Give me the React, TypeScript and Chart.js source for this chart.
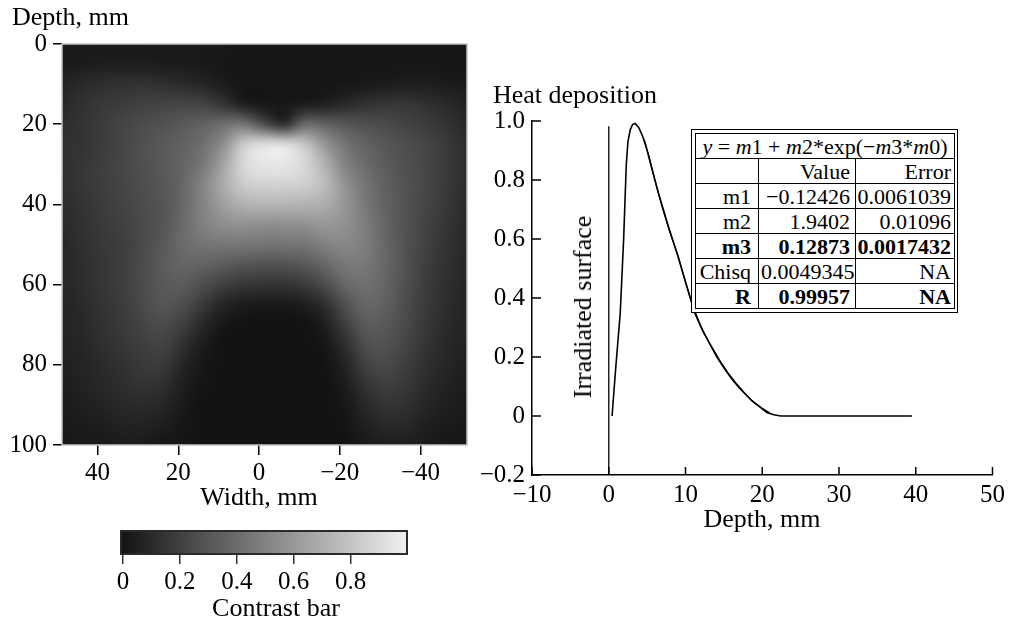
import React, { useEffect, useRef } from 'react';
import { Chart, registerables } from 'chart.js';
Chart.register(...registerables);

const FONT = "'Liberation Serif', 'Times New Roman', serif";

// ---------- Left panel: contrast map (width x depth) ----------
const heatWidths = [48.75, 43.75, 38.75, 33.75, 28.75, 23.75, 18.75, 13.75, 8.75, 3.75, -1.25, -6.25, -11.25, -16.25, -21.25, -26.25, -31.25, -36.25, -41.25, -46.25, -51.25];
const heatDepths = [0, 5, 10, 15, 20, 25, 30, 35, 40, 45, 50, 55, 60, 65, 70, 75, 80, 85, 90, 95, 100];

const row00 = [0.03, 0.03, 0.03, 0.03, 0.03, 0.03, 0.03, 0.03, 0.03, 0.02, 0.02, 0.02, 0.02, 0.02, 0.02, 0.02, 0.02, 0.02, 0.02, 0.02, 0.02];
const row05 = [0.03, 0.04, 0.05, 0.05, 0.05, 0.04, 0.04, 0.03, 0.02, 0.02, 0.02, 0.02, 0.02, 0.02, 0.02, 0.02, 0.02, 0.02, 0.02, 0.02, 0.02];
const row10 = [0.07, 0.11, 0.13, 0.14, 0.14, 0.13, 0.11, 0.08, 0.04, 0.02, 0.02, 0.02, 0.02, 0.02, 0.02, 0.03, 0.04, 0.05, 0.05, 0.04, 0.03];
const row15 = [0.1, 0.14, 0.17, 0.19, 0.21, 0.22, 0.23, 0.22, 0.15, 0.04, 0.02, 0.02, 0.03, 0.05, 0.1, 0.14, 0.16, 0.16, 0.14, 0.11, 0.07];
const row20 = [0.12, 0.15, 0.19, 0.23, 0.26, 0.29, 0.32, 0.36, 0.42, 0.45, 0.25, 0.1, 0.4, 0.36, 0.31, 0.28, 0.25, 0.22, 0.19, 0.15, 0.1];
const row25 = [0.14, 0.15, 0.19, 0.23, 0.28, 0.32, 0.36, 0.42, 0.56, 0.85, 0.94, 0.94, 0.82, 0.6, 0.44, 0.36, 0.31, 0.27, 0.23, 0.18, 0.12];
const row30 = [0.14, 0.16, 0.2, 0.24, 0.28, 0.32, 0.37, 0.46, 0.66, 0.9, 0.96, 0.96, 0.9, 0.72, 0.5, 0.4, 0.33, 0.28, 0.24, 0.18, 0.12];
const row35 = [0.13, 0.16, 0.2, 0.23, 0.27, 0.31, 0.38, 0.52, 0.7, 0.84, 0.87, 0.87, 0.85, 0.77, 0.58, 0.44, 0.35, 0.29, 0.24, 0.18, 0.12];
const row40 = [0.12, 0.15, 0.19, 0.22, 0.26, 0.3, 0.38, 0.52, 0.64, 0.72, 0.73, 0.73, 0.72, 0.7, 0.6, 0.46, 0.36, 0.29, 0.23, 0.17, 0.11];
const row45 = [0.11, 0.14, 0.18, 0.21, 0.25, 0.3, 0.4, 0.5, 0.56, 0.57, 0.56, 0.56, 0.57, 0.6, 0.57, 0.48, 0.37, 0.29, 0.22, 0.16, 0.1];
const row50 = [0.1, 0.13, 0.17, 0.2, 0.25, 0.32, 0.4, 0.44, 0.45, 0.45, 0.44, 0.44, 0.45, 0.5, 0.53, 0.48, 0.38, 0.29, 0.21, 0.15, 0.1];
const row55 = [0.1, 0.12, 0.16, 0.2, 0.26, 0.33, 0.38, 0.36, 0.33, 0.3, 0.29, 0.29, 0.31, 0.38, 0.46, 0.46, 0.38, 0.29, 0.2, 0.14, 0.09];
const row60 = [0.09, 0.12, 0.16, 0.2, 0.26, 0.32, 0.33, 0.27, 0.2, 0.16, 0.15, 0.15, 0.18, 0.26, 0.38, 0.43, 0.37, 0.28, 0.19, 0.13, 0.09];
const row65 = [0.08, 0.11, 0.15, 0.19, 0.25, 0.3, 0.27, 0.17, 0.08, 0.04, 0.03, 0.03, 0.05, 0.12, 0.28, 0.38, 0.35, 0.26, 0.18, 0.12, 0.08];
const row70 = [0.08, 0.1, 0.14, 0.18, 0.23, 0.26, 0.2, 0.09, 0.02, 0, 0, 0, 0, 0.05, 0.2, 0.33, 0.32, 0.25, 0.17, 0.11, 0.08];
const row75 = [0.07, 0.09, 0.13, 0.16, 0.2, 0.22, 0.13, 0.04, 0, 0, 0, 0, 0, 0.02, 0.12, 0.27, 0.29, 0.23, 0.15, 0.1, 0.07];
const row80 = [0.06, 0.08, 0.11, 0.14, 0.18, 0.18, 0.08, 0.02, 0, 0, 0, 0, 0, 0, 0.07, 0.21, 0.25, 0.2, 0.13, 0.09, 0.06];
const row85 = [0.05, 0.07, 0.1, 0.12, 0.15, 0.13, 0.05, 0.01, 0, 0, 0, 0, 0, 0, 0.04, 0.15, 0.2, 0.17, 0.11, 0.07, 0.05];
const row90 = [0.04, 0.06, 0.08, 0.1, 0.11, 0.09, 0.03, 0, 0, 0, 0, 0, 0, 0, 0.02, 0.1, 0.15, 0.14, 0.09, 0.06, 0.04];
const row95 = [0.03, 0.04, 0.05, 0.07, 0.07, 0.05, 0.02, 0, 0, 0, 0, 0, 0, 0, 0.01, 0.06, 0.1, 0.1, 0.06, 0.04, 0.03];
const row100 = [0.02, 0.03, 0.03, 0.04, 0.04, 0.02, 0.01, 0, 0, 0, 0, 0, 0, 0, 0, 0.03, 0.05, 0.05, 0.04, 0.02, 0.02];
const heatRows = [row00, row05, row10, row15, row20, row25, row30, row35, row40, row45, row50, row55, row60, row65, row70, row75, row80, row85, row90, row95, row100];

const widthTicks = [40, 20, 0, -20, -40];
const depthTicks = [0, 20, 40, 60, 80, 100];
const contrastTicks = [0, 0.2, 0.4, 0.6, 0.8];

// ---------- Right panel: heat deposition vs depth ----------
const measuredDepth = [0.43, 0.9, 1.5, 1.94, 2.28, 2.5, 2.8, 3.1, 3.44, 3.9, 4.3, 4.73, 5.4, 6.46, 7.75, 9.04, 10.1, 11.19, 12.3, 13.35, 14.4, 15.5, 16.6, 17.65, 18.7, 19.8, 20.6, 21.5, 22.4, 39.5];
const measuredHeat = [0, 0.16, 0.35, 0.6, 0.85, 0.93, 0.97, 0.988, 0.992, 0.978, 0.955, 0.927, 0.86, 0.757, 0.644, 0.54, 0.445, 0.35, 0.285, 0.237, 0.19, 0.147, 0.11, 0.079, 0.05, 0.028, 0.012, 0.004, 0, 0];
const fitDepth = [4.5, 5.2, 6, 7, 8, 9, 10, 11, 12, 13, 14, 15, 16, 17, 18, 19, 20, 21];
const fitHeat = [0.94, 0.885, 0.8, 0.705, 0.62, 0.545, 0.455, 0.37, 0.305, 0.252, 0.203, 0.162, 0.126, 0.095, 0.068, 0.045, 0.026, 0.01];
const surfaceDepth = [0, 0];
const surfaceHeat = [-0.2, 0.982];

const paramNames = ['m1', 'm2', 'm3', 'Chisq', 'R'];
const paramValues = ['\u22120.12426', '1.9402', '0.12873', '0.0049345', '0.99957'];
const paramErrors = ['0.0061039', '0.01096', '0.0017432', 'NA', 'NA'];
const paramBold = [false, false, true, false, true];

const gray = (v: number) => Math.round(18 + Math.max(0, Math.min(1, v)) * 222);
const minus = (s: string) => s.replace('-', '\u2212');

const heatPlugin = {
  id: 'heatmap',
  beforeDatasetsDraw(chart: any) {
    const { ctx, chartArea, scales } = chart;
    const x = scales.x, y = scales.y;
    const nx = heatWidths.length, ny = heatDepths.length;
    const off = document.createElement('canvas');
    off.width = nx; off.height = ny;
    const octx = off.getContext('2d')!;
    const img = octx.createImageData(nx, ny);
    for (let r = 0; r < ny; r++) {
      for (let c = 0; c < nx; c++) {
        const g = gray(heatRows[r][c]);
        const i = (r * nx + c) * 4;
        img.data[i] = g; img.data[i + 1] = g; img.data[i + 2] = g; img.data[i + 3] = 255;
      }
    }
    octx.putImageData(img, 0, 0);
    const x0 = x.getPixelForValue(heatWidths[0]);
    const x1 = x.getPixelForValue(heatWidths[nx - 1]);
    const y0 = y.getPixelForValue(heatDepths[0]);
    const y1 = y.getPixelForValue(heatDepths[ny - 1]);
    const cw = (x1 - x0) / (nx - 1);
    const ch = (y1 - y0) / (ny - 1);
    ctx.save();
    ctx.beginPath();
    ctx.rect(chartArea.left, chartArea.top, chartArea.right - chartArea.left, chartArea.bottom - chartArea.top);
    ctx.clip();
    ctx.imageSmoothingEnabled = true;
    (ctx as any).imageSmoothingQuality = 'high';
    ctx.drawImage(off, x0 - cw / 2, y0 - ch / 2, cw * nx, ch * ny);
    ctx.restore();
    ctx.save();
    ctx.strokeStyle = '#c4c4c4';
    ctx.lineWidth = 1.5;
    ctx.strokeRect(chartArea.left, chartArea.top, chartArea.right - chartArea.left, chartArea.bottom - chartArea.top);
    ctx.restore();
  },
};

const barPlugin = {
  id: 'contrastBar',
  beforeDatasetsDraw(chart: any) {
    const { ctx, chartArea } = chart;
    const g = ctx.createLinearGradient(chartArea.left, 0, chartArea.right, 0);
    const a = gray(0), b = gray(1);
    g.addColorStop(0, `rgb(${a},${a},${a})`);
    g.addColorStop(1, `rgb(${b},${b},${b})`);
    ctx.save();
    ctx.fillStyle = g;
    ctx.fillRect(chartArea.left, chartArea.top, chartArea.right - chartArea.left, chartArea.bottom - chartArea.top);
    ctx.strokeStyle = '#2a2a2a';
    ctx.lineWidth = 2;
    ctx.strokeRect(chartArea.left, chartArea.top, chartArea.right - chartArea.left, chartArea.bottom - chartArea.top);
    ctx.restore();
  },
};

const innerTicksPlugin = {
  id: 'innerTicks',
  afterDraw(chart: any) {
    const { ctx, chartArea, scales } = chart;
    ctx.save();
    ctx.strokeStyle = '#000';
    ctx.lineWidth = 1.5;
    ctx.beginPath();
    scales.y.ticks.forEach((t: any) => {
      const py = scales.y.getPixelForValue(t.value);
      ctx.moveTo(chartArea.left, py);
      ctx.lineTo(chartArea.left + 9, py);
    });
    scales.x.ticks.forEach((t: any) => {
      const px = scales.x.getPixelForValue(t.value);
      ctx.moveTo(px, chartArea.bottom);
      ctx.lineTo(px, chartArea.bottom - 8);
    });
    ctx.stroke();
    ctx.restore();
  },
};

const tickFont = { family: FONT, size: 25 };

export default function App() {
  const heatRef = useRef<HTMLCanvasElement>(null);
  const barRef = useRef<HTMLCanvasElement>(null);
  const lineRef = useRef<HTMLCanvasElement>(null);

  useEffect(() => {
    const charts: Chart[] = [];

    charts.push(new Chart(heatRef.current!, {
      type: 'scatter',
      data: { datasets: [] },
      plugins: [heatPlugin],
      options: {
        animation: false,
        responsive: false,
        events: [],
        layout: { padding: { top: 44, right: 13, left: 0, bottom: 0 } },
        plugins: { legend: { display: false }, tooltip: { enabled: false } },
        scales: {
          x: {
            type: 'linear', min: -51.5, max: 48.8, reverse: true,
            afterBuildTicks: (s: any) => { s.ticks = widthTicks.map((v) => ({ value: v })); },
            afterFit: (s: any) => { s.height = 45; },
            ticks: { color: '#000', font: tickFont, padding: 3, maxRotation: 0, callback: (v: any) => minus(String(v)) },
            grid: { display: true, drawOnChartArea: false, drawTicks: true, tickLength: 10, color: '#000', lineWidth: 1.5 },
            border: { display: false },
          },
          y: {
            type: 'linear', min: 0, max: 100, reverse: true,
            afterBuildTicks: (s: any) => { s.ticks = depthTicks.map((v) => ({ value: v })); },
            afterFit: (s: any) => { s.width = 62; },
            ticks: { color: '#000', font: tickFont, padding: 6 },
            grid: { display: true, drawOnChartArea: false, drawTicks: true, tickLength: 9, color: '#000', lineWidth: 1.5 },
            border: { display: false },
          },
        },
      },
    } as any));

    charts.push(new Chart(barRef.current!, {
      type: 'scatter',
      data: { datasets: [] },
      plugins: [barPlugin],
      options: {
        animation: false,
        responsive: false,
        events: [],
        layout: { padding: { top: 11, right: 23, left: 21, bottom: 0 } },
        plugins: { legend: { display: false }, tooltip: { enabled: false } },
        scales: {
          x: {
            type: 'linear', min: -0.007, max: 0.998,
            afterBuildTicks: (s: any) => { s.ticks = contrastTicks.map((v) => ({ value: v })); },
            afterFit: (s: any) => { s.height = 66; },
            ticks: { color: '#000', font: tickFont, padding: 3, maxRotation: 0, callback: (v: any) => String(Math.round(v * 10) / 10) },
            grid: { display: true, drawOnChartArea: false, drawTicks: true, tickLength: 10, color: '#333', lineWidth: 1.5 },
            border: { display: false },
          },
          y: { type: 'linear', min: 0, max: 1, display: false },
        },
      },
    } as any));

    charts.push(new Chart(lineRef.current!, {
      type: 'scatter',
      data: {
        datasets: [
          {
            label: 'Irradiated surface',
            data: surfaceDepth.map((d, i) => ({ x: d, y: surfaceHeat[i] })),
            showLine: true, borderColor: '#222', borderWidth: 1.5, pointRadius: 0,
          },
          {
            label: 'Measured',
            data: measuredDepth.map((d, i) => ({ x: d, y: measuredHeat[i] })),
            showLine: true, borderColor: '#000', borderWidth: 1.6, pointRadius: 0, tension: 0,
          },
          {
            label: 'Fit',
            data: fitDepth.map((d, i) => ({ x: d, y: fitHeat[i] })),
            showLine: true, borderColor: '#000', borderWidth: 1.2, pointRadius: 0, tension: 0,
          },
        ],
      },
      plugins: [innerTicksPlugin],
      options: {
        animation: false,
        responsive: false,
        events: [],
        layout: { padding: { top: 41, right: 16, left: 0, bottom: 0 } },
        plugins: { legend: { display: false }, tooltip: { enabled: false } },
        scales: {
          x: {
            type: 'linear', min: -10, max: 50,
            afterFit: (s: any) => { s.height = 70; },
            ticks: { stepSize: 10, color: '#000', font: tickFont, padding: 5, maxRotation: 0, callback: (v: any) => minus(String(Math.round(v))) },
            grid: { display: false, drawTicks: false },
            border: { display: true, color: '#000', width: 1.5 },
          },
          y: {
            type: 'linear', min: -0.2, max: 1.0,
            afterFit: (s: any) => { s.width = 62; },
            ticks: {
              stepSize: 0.2, color: '#000', font: tickFont, padding: 7,
              callback: (v: any) => {
                const r = Math.round(v * 10) / 10;
                if (r === 0) return '0';
                return (r < 0 ? '\u2212' : '') + Math.abs(r).toFixed(1);
              },
            },
            grid: { display: false, drawTicks: false },
            border: { display: true, color: '#000', width: 1.5 },
          },
        },
      },
    } as any));

    return () => charts.forEach((c) => c.destroy());
  }, []);

  const titleStyle: React.CSSProperties = {
    position: 'absolute', fontFamily: FONT, fontSize: 26, lineHeight: '30px', whiteSpace: 'nowrap', color: '#000',
  };
  const cell: React.CSSProperties = {
    border: '1px solid #000', padding: '0 5px 0 0', textAlign: 'right', lineHeight: '23px', height: 24, whiteSpace: 'nowrap',
  };

  return (
    <div style={{ position: 'absolute', left: 0, top: 0, width: 1010, height: 622, background: '#fff', overflow: 'hidden' }}>
      <canvas ref={heatRef} width={480} height={490} style={{ position: 'absolute', left: 0, top: 0, width: 480, height: 490 }} />
      <canvas ref={barRef} width={330} height={100} style={{ position: 'absolute', left: 100, top: 520, width: 330, height: 100 }} />
      <canvas ref={lineRef} width={540} height={465} style={{ position: 'absolute', left: 470, top: 80, width: 540, height: 465 }} />

      <div style={{ ...titleStyle, left: 12, top: 2 }}>Depth, mm</div>
      <div style={{ ...titleStyle, left: 259, top: 482, transform: 'translateX(-50%)' }}>Width, mm</div>
      <div style={{ ...titleStyle, left: 276, top: 593, transform: 'translateX(-50%)' }}>Contrast bar</div>
      <div style={{ ...titleStyle, left: 493, top: 80 }}>Heat deposition</div>
      <div style={{ ...titleStyle, left: 762, top: 504, transform: 'translateX(-50%)' }}>Depth, mm</div>
      <div style={{ ...titleStyle, left: 583, top: 307, transform: 'translate(-50%, -50%) rotate(-90deg)' }}>Irradiated surface</div>

      <div style={{ position: 'absolute', left: 691, top: 129, width: 259, border: '1px solid #000', padding: 3, background: '#fff' }}>
        <table style={{ borderCollapse: 'collapse', width: 259, tableLayout: 'fixed', fontFamily: FONT, fontSize: 22, color: '#000' }}>
          <colgroup>
            <col style={{ width: 63 }} />
            <col style={{ width: 97 }} />
            <col style={{ width: 99 }} />
          </colgroup>
          <tbody>
            <tr>
              <td colSpan={3} style={{ ...cell, textAlign: 'center', padding: 0 }}>
                <i>y</i> = <i>m</i>1 + <i>m</i>2*exp(−<i>m</i>3*<i>m</i>0)
              </td>
            </tr>
            <tr>
              <td style={cell}></td>
              <td style={cell}>Value</td>
              <td style={{ ...cell, paddingRight: 3 }}>Error</td>
            </tr>
            {paramNames.map((n, i) => (
              <tr key={n} style={{ fontWeight: paramBold[i] ? 'bold' : 'normal' }}>
                <td style={{ ...cell, paddingRight: 7 }}>{n}</td>
                <td style={{ ...cell, textAlign: n === 'Chisq' ? 'left' : 'right', paddingLeft: n === 'Chisq' ? 2 : 0 }}>{paramValues[i]}</td>
                <td style={{ ...cell, paddingRight: 3 }}>{paramErrors[i]}</td>
              </tr>
            ))}
          </tbody>
        </table>
      </div>
    </div>
  );
}
